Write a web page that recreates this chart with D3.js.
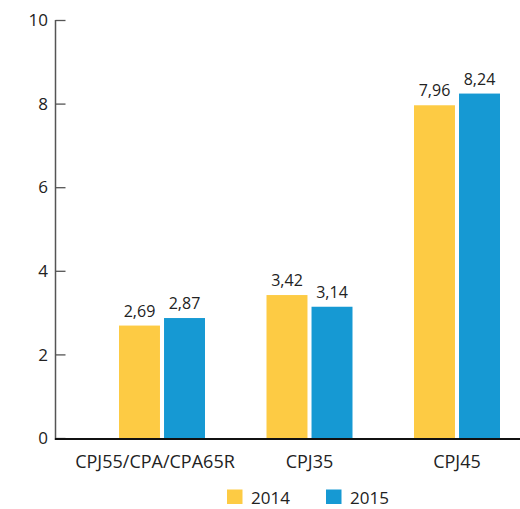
<!DOCTYPE html>
<html>
<head>
<meta charset="utf-8">
<script src="https://cdn.jsdelivr.net/npm/d3@7"></script>
<style>
  html, body { margin: 0; padding: 0; background: #fff; }
  svg { display: block; font-family: "Open Sans", "Noto Sans", sans-serif; }
</style>
</head>
<body>
<svg id="chart" width="520" height="509"></svg>
<script>
const categories = ["CPJ55/CPA/CPA65R", "CPJ35", "CPJ45"];
const seriesNames = ["2014", "2015"];
const values2014 = [2.69, 3.42, 7.96];
const values2015 = [2.87, 3.14, 8.24];
const valueLabels2014 = ["2,69", "3,42", "7,96"];
const valueLabels2015 = ["2,87", "3,14", "8,24"];
const yTicks = [0, 2, 4, 6, 8, 10];
const colors = ["#FDCB44", "#1699D3"];

const svg = d3.select("#chart");
const yTop = 20, yBottom = 438, axisX = 55.5;

const y = d3.scaleLinear().domain([0, 10]).range([yBottom, yTop]);
const xc = d3.scalePoint().domain(categories).range([162, 457]);
const xs = d3.scaleBand().domain(seriesNames).range([-43, 43]).paddingInner(0.09);
const color = d3.scaleOrdinal().domain(seriesNames).range(colors);

const series = [
  { name: "2014", values: values2014, labels: valueLabels2014 },
  { name: "2015", values: values2015, labels: valueLabels2015 }
];

// y axis
const yAxis = d3.axisRight(y).tickValues(yTicks).tickSize(10).tickFormat("");
const yg = svg.append("g").attr("transform", `translate(${axisX},0)`).call(yAxis);
yg.select(".domain").attr("stroke", "#555").attr("stroke-width", 1.5)
  .attr("d", `M0,${yTop}V${yBottom}`);
yg.selectAll(".tick line").attr("stroke", "#555").attr("stroke-width", 1.3);

svg.append("g").selectAll("text").data(yTicks).join("text")
  .attr("x", 48).attr("y", d => y(d)).attr("dy", "0.36em")
  .attr("text-anchor", "end").attr("font-size", 17).attr("fill", "#222")
  .text(d => d);

// bars
const groups = svg.append("g").selectAll("g").data(series).join("g")
  .attr("fill", d => color(d.name));
groups.selectAll("rect").data(d => d.values.map((v, i) => ({ v, i, s: d.name })))
  .join("rect")
  .attr("x", d => xc(categories[d.i]) + xs(d.s))
  .attr("width", xs.bandwidth())
  .attr("y", d => y(d.v))
  .attr("height", d => y(0) - y(d.v));

// value labels
svg.append("g").selectAll("text")
  .data(series.flatMap(s => s.values.map((v, i) => ({ v, i, s: s.name, label: s.labels[i] }))))
  .join("text")
  .attr("x", d => xc(categories[d.i]) + xs(d.s) + xs.bandwidth() / 2)
  .attr("y", d => y(d.v) - 9)
  .attr("text-anchor", "middle").attr("font-size", 16).attr("fill", "#222")
  .text(d => d.label);

// baseline
svg.append("line").attr("x1", axisX - 0.75).attr("x2", 520)
  .attr("y1", y(0) + 1).attr("y2", y(0) + 1)
  .attr("stroke", "#111").attr("stroke-width", 1.8);

// category labels
svg.append("g").selectAll("text").data(categories).join("text")
  .attr("x", (d, i) => xc(d) + (i === 0 ? -7 : 0))
  .attr("y", 468)
  .attr("text-anchor", "middle").attr("font-size", 18).attr("fill", "#222")
  .text(d => d);

// legend
const legend = svg.append("g").selectAll("g").data(seriesNames).join("g")
  .attr("transform", (d, i) => `translate(${227 + i * 99},489.5)`);
legend.append("rect").attr("width", 15.5).attr("height", 14.5).attr("fill", d => color(d));
legend.append("text").attr("x", 24).attr("y", 14)
  .attr("font-size", 17).attr("fill", "#222").text(d => d);
</script>
</body>
</html>
